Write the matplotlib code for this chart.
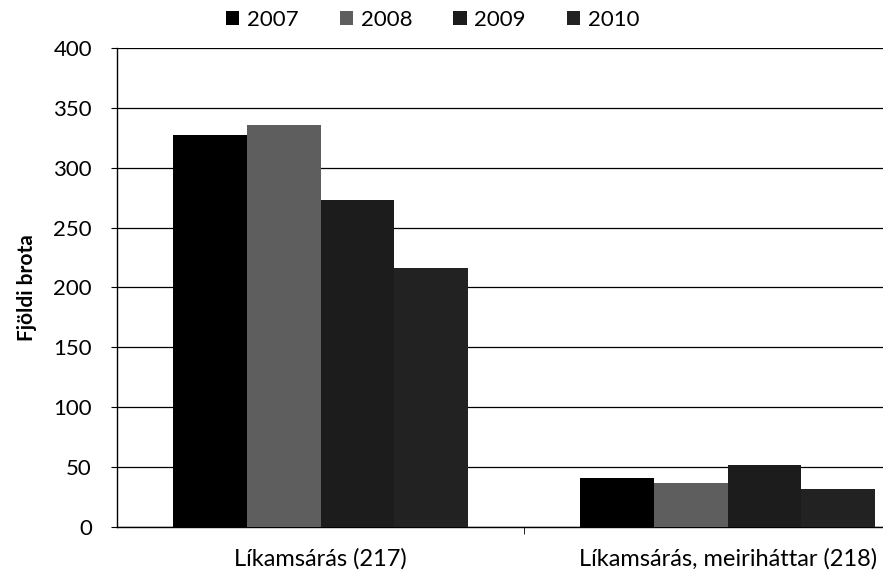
import matplotlib.pyplot as plt
import numpy as np

plt.rcParams['font.family'] = ['Lato', 'DejaVu Sans']

categories = ['Líkamsárás (217)', 'Líkamsárás, meiriháttar (218)']
years = ['2007', '2008', '2009', '2010']
values = {
    '2007': [327, 41],
    '2008': [336, 37],
    '2009': [273, 52],
    '2010': [216, 32],
}
colors = ['#000000', '#5e5e5e', '#1c1c1c', '#222222']

fig = plt.figure(figsize=(8.83, 5.79), dpi=100)
# plot area runs past the right edge, as in the original scan
ax = fig.add_axes([0.1325, 0.09, 0.922, 0.827])

x = np.arange(len(categories))
width = 0.181
for i, yr in enumerate(years):
    ax.bar(x + (i - 1.5) * width, values[yr], width, color=colors[i],
           label=yr, zorder=3, linewidth=0)

ax.set_xlim(-0.5, 1.5)
ax.set_ylim(0, 400)
ax.set_yticks(range(0, 401, 50))
ax.yaxis.grid(True, color='black', linewidth=0.9, zorder=0)
ax.tick_params(axis='y', labelsize=16, length=4, direction='out', pad=14)
ax.set_xticks(x)
ax.set_xticklabels(categories, fontsize=17)
ax.tick_params(axis='x', length=0, pad=15)
ax.set_xticks([0.5], minor=True)
ax.tick_params(axis='x', which='minor', length=5, direction='out')
for s in ['top', 'right']:
    ax.spines[s].set_visible(False)
ax.spines['left'].set_linewidth(1.0)
ax.spines['bottom'].set_linewidth(1.0)

ax.set_ylabel('Fjöldi brota', fontsize=15, fontweight='bold', labelpad=12)

fig.legend(loc='center', bbox_to_anchor=(0.49, 0.965), ncol=4, frameon=False,
           fontsize=16, handlelength=0.6, handleheight=0.6, handletextpad=0.35,
           columnspacing=1.85)

fig.savefig('out.png', dpi=100)
